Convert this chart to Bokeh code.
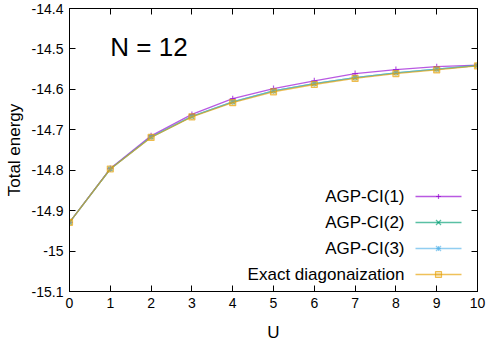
from bokeh.plotting import figure
from bokeh.models import (LinearAxis, FixedTicker, Label, Arrow, BoxAnnotation,
                          ColumnDataSource, Range1d)
from bokeh.embed import file_html
from bokeh.resources import INLINE

U = [0, 1, 2, 3, 4, 5, 6, 7, 8, 9, 10]
agp_ci1 = [-14.929, -14.796, -14.715, -14.662, -14.623, -14.598, -14.579, -14.561, -14.551, -14.544, -14.540]
agp_ci2 = [-14.929, -14.797, -14.718, -14.667, -14.631, -14.604, -14.586, -14.571, -14.559, -14.550, -14.541]
agp_ci3 = [-14.929, -14.797, -14.718, -14.667, -14.631, -14.604, -14.586, -14.571, -14.559, -14.550, -14.541]
exact = [-14.929, -14.797, -14.719, -14.668, -14.633, -14.606, -14.588, -14.573, -14.561, -14.552, -14.542]

series_names = ["AGP-CI(1)", "AGP-CI(2)", "AGP-CI(3)", "Exact diagonaization"]
series_values = [agp_ci1, agp_ci2, agp_ci3, exact]
colors = ["#9400d3", "#009e73", "#56b4e9", "#e69f00"]
markers = ["cross", "x", "asterisk", "square"]

y_ticks = [-15.1, -15.0, -14.9, -14.8, -14.7, -14.6, -14.5, -14.4]
y_tick_labels = ["-15.1", "-15", "-14.9", "-14.8", "-14.7", "-14.6", "-14.5", "-14.4"]
x_ticks = list(range(0, 11))

FONT = "Liberation Sans"
W, H = 491, 344
ALPHA = 0.65

p = figure(width=W, height=H, output_backend="svg", toolbar_location=None,
           x_range=Range1d(0, 10), y_range=Range1d(-15.1, -14.4),
           min_border_left=69, min_border_right=14, min_border_top=8, min_border_bottom=50)
p.outline_line_color = "black"
p.outline_line_width = 1
p.xgrid.visible = False
p.ygrid.visible = False
p.background_fill_color = "white"
p.border_fill_color = "white"

for ax in (p.xaxis[0], p.yaxis[0]):
    ax.major_tick_in = 6
    ax.major_tick_out = 0
    ax.minor_tick_in = 0
    ax.minor_tick_out = 0
    ax.axis_line_color = "black"
    ax.major_tick_line_color = "black"
    ax.major_label_text_font = FONT
    ax.major_label_text_font_size = "14px"
    ax.major_label_text_color = "black"
    ax.axis_label_text_font = FONT
    ax.axis_label_text_font_size = "17px"
    ax.axis_label_text_font_style = "normal"
    ax.axis_label_text_color = "black"

p.xaxis[0].ticker = FixedTicker(ticks=x_ticks)
p.yaxis[0].ticker = FixedTicker(ticks=y_ticks)
p.yaxis[0].major_label_overrides = {t: l for t, l in zip(y_ticks, y_tick_labels)}
p.xaxis[0].axis_label = "U"
p.yaxis[0].axis_label = "Total energy"
p.xaxis[0].major_label_standoff = 6
p.yaxis[0].major_label_standoff = 6
p.xaxis[0].axis_label_standoff = 12
p.yaxis[0].axis_label_standoff = 5

# mirrored axes
top = LinearAxis(ticker=FixedTicker(ticks=x_ticks), major_label_text_font_size="0px",
                 major_tick_in=6, major_tick_out=0, minor_tick_in=0, minor_tick_out=0,
                 axis_line_color="black", major_label_standoff=0)
right = LinearAxis(ticker=FixedTicker(ticks=y_ticks), major_label_text_font_size="0px",
                   major_tick_in=6, major_tick_out=0, minor_tick_in=0, minor_tick_out=0,
                   axis_line_color="black", major_label_standoff=0)
top.major_label_overrides = {t: "" for t in x_ticks}
right.major_label_overrides = {t: "" for t in y_ticks}
p.add_layout(top, "above")
p.add_layout(right, "right")

for name, vals, c, m in zip(series_names, series_values, colors, markers):
    src = ColumnDataSource(dict(x=U, y=vals))
    p.line("x", "y", source=src, line_color=c, line_width=1.3, line_alpha=ALPHA)
    if m == "square":
        p.scatter("x", "y", source=src, marker=m, size=6, line_color=c, line_alpha=ALPHA,
                  fill_color=c, fill_alpha=0.3, line_width=1.2)
    else:
        p.scatter("x", "y", source=src, marker=m, size=6, line_color=c, line_alpha=ALPHA,
                  line_width=1.2)

p.add_layout(Label(x=1.0, y=-14.495, text="N = 12", text_font=FONT, text_font_size="26px",
                   text_baseline="middle", text_align="left", text_color="black"))

# legend (label left, sample right); screen units are relative to the frame's bottom-left
row_y = [95, 69, 43, 17]
text_right = 335
line_x0, line_x1, mark_x = 346, 392, 369
r = 2.5
for name, c, m, yy in zip(series_names, colors, markers, row_y):
    p.add_layout(Label(x=text_right, y=yy, x_units="screen", y_units="screen", text=name,
                       text_font=FONT, text_font_size="17px", text_align="right",
                       text_baseline="middle", text_color="black"))
    p.add_layout(Arrow(x_start=line_x0, y_start=yy, x_end=line_x1, y_end=yy,
                       start_units="screen", end_units="screen", end=None,
                       line_color=c, line_width=1.3, line_alpha=ALPHA))
    segs = []
    if m in ("cross", "asterisk"):
        segs += [(-r, 0, r, 0), (0, -r, 0, r)]
    if m in ("x", "asterisk"):
        segs += [(-r, -r, r, r), (-r, r, r, -r)]
    for dx0, dy0, dx1, dy1 in segs:
        p.add_layout(Arrow(x_start=mark_x + dx0, y_start=yy + dy0, x_end=mark_x + dx1, y_end=yy + dy1,
                           start_units="screen", end_units="screen", end=None,
                           line_color=c, line_width=1.2, line_alpha=ALPHA))
    if m == "square":
        p.add_layout(BoxAnnotation(left=mark_x - 3, right=mark_x + 3, bottom=yy - 3, top=yy + 3,
                                   left_units="screen", right_units="screen",
                                   bottom_units="screen", top_units="screen",
                                   fill_color=c, fill_alpha=0.3, line_color=c,
                                   line_width=1.2, line_alpha=ALPHA))

open("out.html", "w").write(file_html(p, INLINE))
